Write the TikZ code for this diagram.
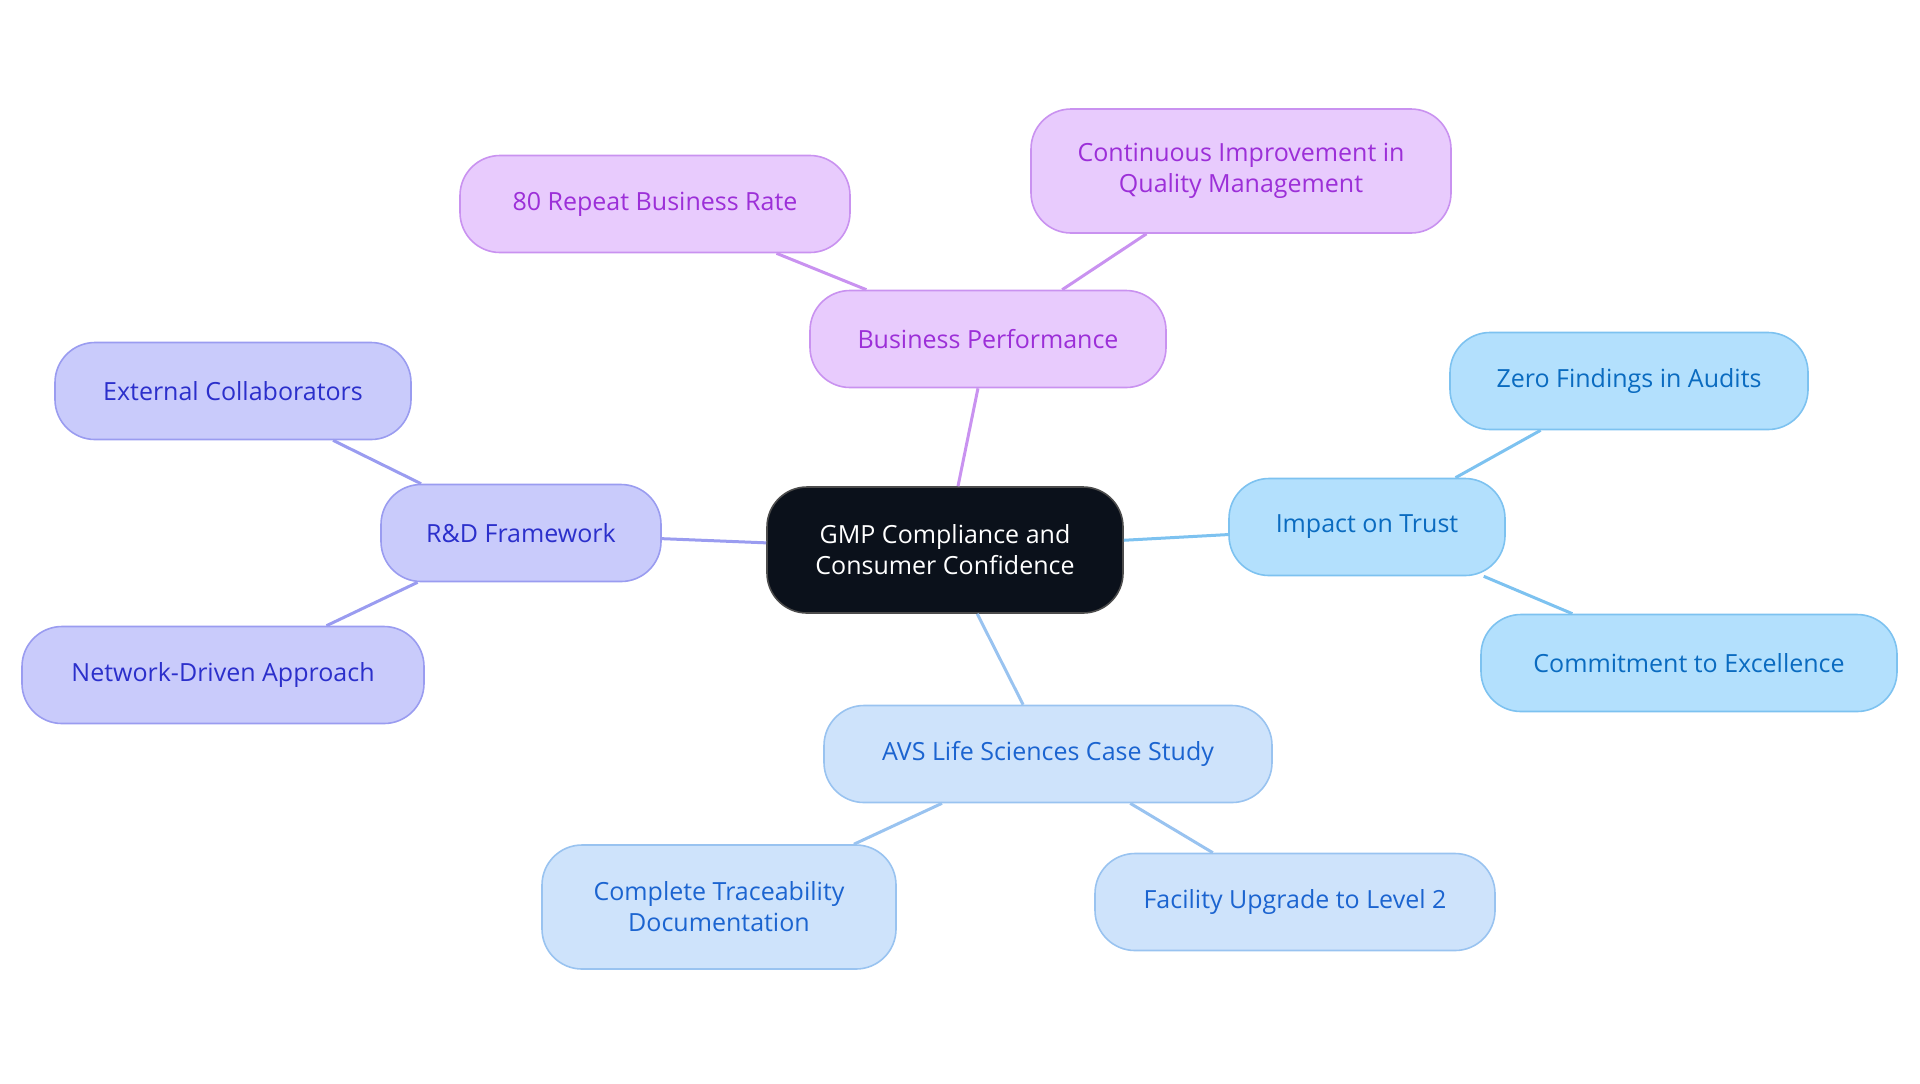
\documentclass[tikz,border=0pt]{standalone}
\usepackage{fontspec}
\setmainfont{Open Sans}
\definecolor{rootfill}{HTML}{0B111B}
\definecolor{purpfill}{HTML}{E8CBFD}
\definecolor{purpline}{HTML}{C992F0}
\definecolor{purptext}{HTML}{9C2FD8}
\definecolor{indfill}{HTML}{C9CBFB}
\definecolor{indline}{HTML}{9A9CF0}
\definecolor{indtext}{HTML}{2B2FCB}
\definecolor{skyfill}{HTML}{B3E0FD}
\definecolor{skyline}{HTML}{7DC2F0}
\definecolor{skytext}{HTML}{0A6BC0}
\definecolor{palefill}{HTML}{CEE3FB}
\definecolor{paleline}{HTML}{99C3F0}
\definecolor{paletext}{HTML}{1B64D0}
\begin{document}
\begin{tikzpicture}[x=0.5pt, y=-0.5pt,
    topic/.style ={rectangle, rounded corners=20pt, draw, line width=0.8pt, align=center,
                   inner sep=0pt, minimum height=48.5pt, font=\fontsize{12.5}{15.5}\selectfont},
    root/.style  ={topic, fill=rootfill, draw=black!70, text=white, minimum height=63pt},
    purp/.style  ={topic, fill=purpfill, draw=purpline, text=purptext},
    ind/.style   ={topic, fill=indfill, draw=indline, text=indtext},
    sky/.style   ={topic, fill=skyfill, draw=skyline, text=skytext},
    pale/.style  ={topic, fill=palefill, draw=paleline, text=paletext},
    link/.style  ={line width=1.5pt}]
   \useasboundingbox (0,0) rectangle (1920,1083);
   \node[root, minimum width=178pt] (gmp) at (945,550) {GMP Compliance and\\Consumer Confidence};

   \node[purp, minimum width=178pt] (perf) at (988,339) {Business Performance};
   \node[purp, minimum width=195pt] (repeat) at (655,204) {80 Repeat Business Rate};
   \node[purp, minimum width=210pt, minimum height=62pt] (improve) at (1241,171) {Continuous Improvement in\\Quality Management};

   \node[ind, minimum width=140pt] (rnd) at (521,533) {R\&D Framework};
   \node[ind, minimum width=178pt] (extern) at (233,391) {External Collaborators};
   \node[ind, minimum width=201pt] (network) at (223,675) {Network-Driven Approach};

   \node[sky, minimum width=138pt] (trust) at (1367,527) {Impact on Trust};
   \node[sky, minimum width=179pt] (zero) at (1629,381) {Zero Findings in Audits};
   \node[sky, minimum width=208pt] (excel) at (1689,663) {Commitment to Excellence};

   \node[pale, minimum width=224pt] (avs) at (1048,754) {AVS Life Sciences Case Study};
   \node[pale, minimum width=177pt, minimum height=62pt] (trace) at (719,907) {Complete Traceability\\Documentation};
   \node[pale, minimum width=200pt] (level) at (1295,902) {Facility Upgrade to Level 2};

   \draw[link, purpline] (gmp) to (perf);
   \draw[link, purpline] (perf) to (repeat);
   \draw[link, purpline] (perf) to (improve);
   \draw[link, indline] (gmp) to (rnd);
   \draw[link, indline] (rnd) to (extern);
   \draw[link, indline] (rnd) to (network);
   \draw[link, skyline] (gmp) to (trust);
   \draw[link, skyline] (trust) to (zero);
   \draw[link, skyline] (trust) to (excel);
   \draw[link, paleline] (gmp) to (avs);
   \draw[link, paleline] (avs) to (trace);
   \draw[link, paleline] (avs) to (level);
\end{tikzpicture}
\end{document}
